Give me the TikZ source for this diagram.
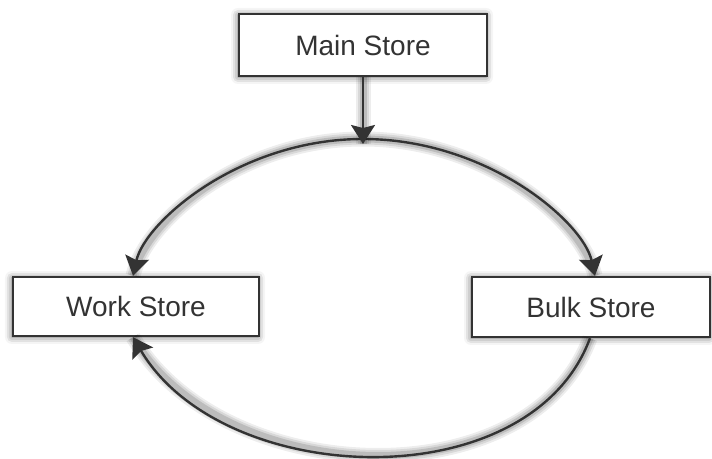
\documentclass[tikz,border=0pt]{standalone}
\usepackage{fontspec}
\setmainfont{Liberation Sans}
\usetikzlibrary{arrows.meta,shadows.blur,calc}
\definecolor{ink}{HTML}{333333}
\begin{document}
\begin{tikzpicture}[x=1pt,y=1pt,
  storebox/.style={draw=ink, line width=2.4pt, fill=white, text=ink,
    font=\fontsize{28}{32}\selectfont, inner sep=0pt,
    blur shadow={shadow blur radius=7pt, shadow xshift=-1pt, shadow yshift=-1pt, shadow opacity=60}},
  glow/.style={draw=black, line width=#1, arrows=-},
  flow/.style={draw=ink, line width=2.4pt, arrows={-Stealth[length=19pt,width=24pt,inset=3pt]},
    preaction={glow=15pt, opacity=.07},
    preaction={glow=11pt, opacity=.09},
    preaction={glow=7pt, opacity=.13}}]
\useasboundingbox (0,0) rectangle (712,458);
\node[storebox, minimum width=248pt, minimum height=62pt] (main) at (363,413) {Main Store};
\node[storebox, minimum width=246pt, minimum height=59pt] (work) at (136,151.5) {Work Store};
\node[storebox, minimum width=238pt, minimum height=60pt] (bulk) at (591,151) {Bulk Store};
\coordinate (top) at (363,319);
% arcs from the top of the ellipse
\draw[flow] (top) .. controls +(-123,0) and +(12,54) .. ([xshift=-3pt]work.north);
\draw[flow] (top) .. controls +(124,0) and +(-12,54) .. ([xshift=4pt]bulk.north);
% bottom return arc
\draw[flow] ([xshift=-1pt]bulk.south) .. controls +(-60,-162) and +(90,-152) .. ([xshift=-3pt]work.south);
% main store down to the arc
\draw[flow, shorten >=-5pt] (main.south) -- (top);
\end{tikzpicture}
\end{document}
